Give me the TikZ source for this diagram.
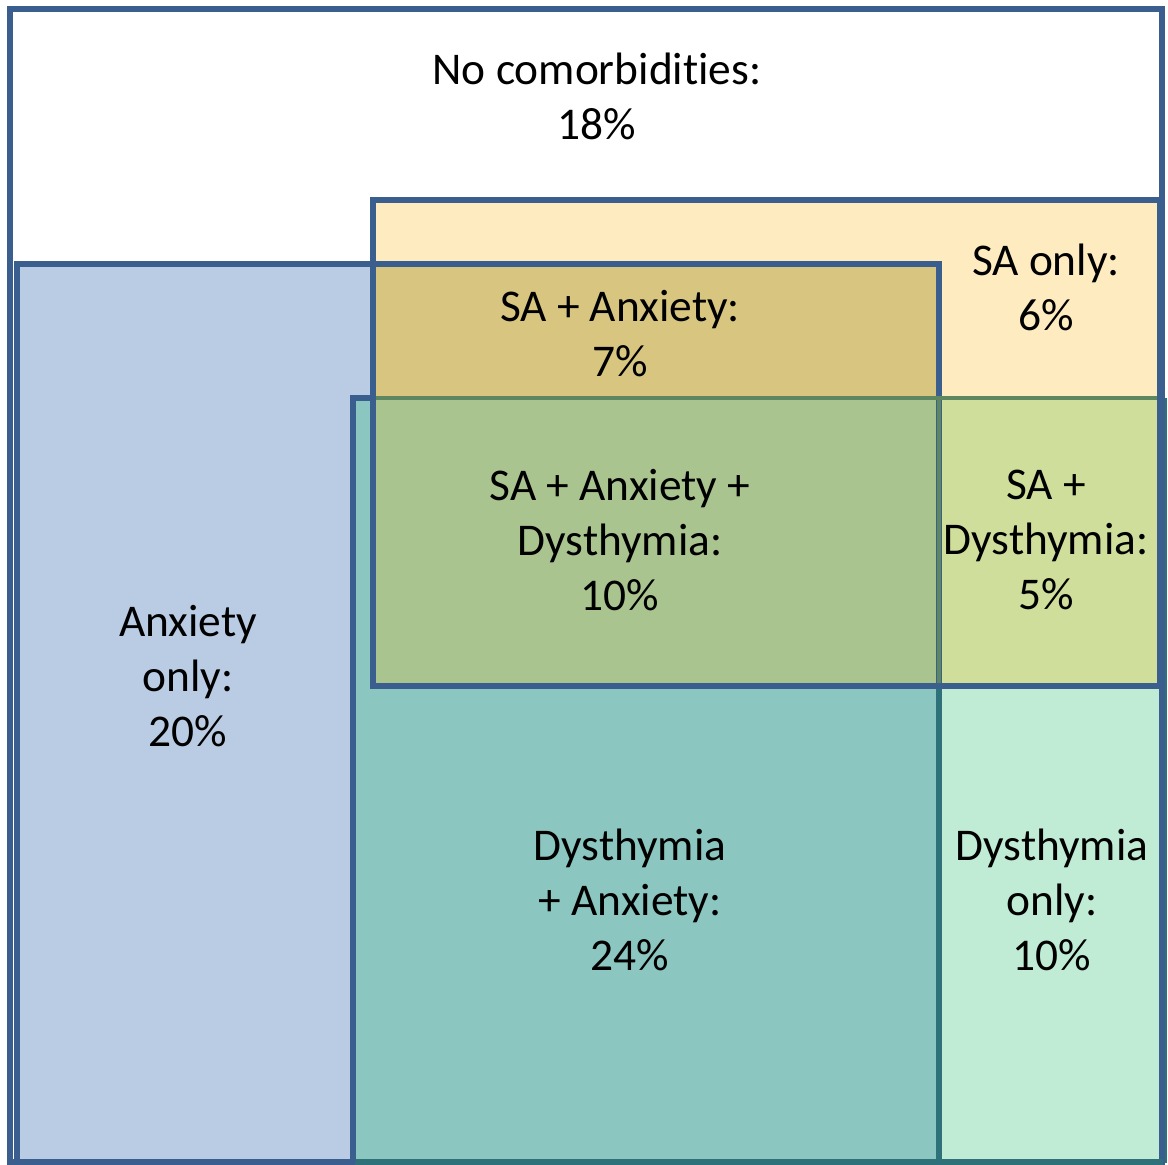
\documentclass[tikz,border=0pt]{standalone}
\usepackage{fontspec}
\setmainfont{Carlito}[Ligatures=NoCommon]
\definecolor{edgeblue}{HTML}{3A5F8F}
\definecolor{edgeteal}{HTML}{2E7178}
\definecolor{edgegreen}{HTML}{5E8660}
\definecolor{cAnx}{HTML}{B9CCE4}
\definecolor{cSA}{HTML}{FEEBC0}
\definecolor{cSAAnx}{HTML}{D8C680}
\definecolor{cDys}{HTML}{C0EBD4}
\definecolor{cDysAnx}{HTML}{8BC6C0}
\definecolor{cDysSA}{HTML}{D0DE9C}
\definecolor{cAll}{HTML}{A9C48F}
\tikzset{
  x=0.5pt, y=-0.5pt,
  bord/.style={draw=edgeblue, line width=2.6pt, line join=miter},
  lbl/.style={align=center, font=\fontsize{22.7}{27.5}\selectfont, text=black, inner sep=0pt}
}
\begin{document}
\begin{tikzpicture}
\useasboundingbox (0,0) rectangle (1168,1165);
% fills
\fill[white] (10,9) rectangle (1162,1162);
\fill[cAnx] (17,264) rectangle (939,1162);
\fill[cSA] (373,200) rectangle (1160,686);
\fill[cSAAnx] (373,264) rectangle (939,398);
\fill[cDys] (353,398) rectangle (1166,1162);
\fill[cDysAnx] (353,398) rectangle (939,1162);
\fill[cDysSA] (373,398) rectangle (1160,686);
\fill[cAll] (373,398) rectangle (939,686);
% borders
\draw[bord] (10,9) rectangle (1162,1162);
\draw[bord] (17,264) rectangle (939,1162);
\draw[draw=edgeteal, line width=2.6pt] (939,686) -- (939,1162);
\draw[draw=edgeteal, line width=2.6pt] (355,1162) -- (1163,1162);
\draw[draw=edgeteal, line width=1.2pt] (1166,398) -- (1166,1163);
\draw[draw=edgegreen, line width=2.2pt] (939,398) -- (939,686);
\draw[draw=edgegreen, line width=2.2pt] (373,398) -- (1160,398);
\draw[bord] (353,1162) -- (353,398) -- (373,398);
\draw[bord] (373,200) rectangle (1160,686);
% labels
\node[lbl] (none) at (597,96) {No comorbidities:\\18\%};
\node[lbl] (saonly) at (1046,287) {SA only:\\6\%};
\node[lbl] (saanx) at (620,334) {SA + Anxiety:\\7\%};
\node[lbl] (all) at (620,540) {SA + Anxiety +\\Dysthymia:\\10\%};
\node[lbl] (sadys) at (1046,540) {SA +\\Dysthymia:\\5\%};
\node[lbl] (anxonly) at (188,676) {Anxiety\\only:\\20\%};
\node[lbl] (dysanx) at (630,900) {Dysthymia\\+ Anxiety:\\24\%};
\node[lbl] (dysonly) at (1052,900) {Dysthymia\\only:\\10\%};
\end{tikzpicture}
\end{document}
